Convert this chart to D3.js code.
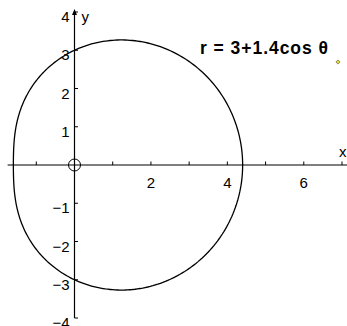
<!DOCTYPE html>
<html>
<head>
<meta charset="utf-8">
<script src="https://cdn.jsdelivr.net/npm/d3@7"></script>
<style>
body { margin: 0; background: #fff; }
text { font-family: Arial, "Liberation Sans", sans-serif; }
</style>
</head>
<body>
<svg id="chart" width="347" height="326"></svg>
<script>
// curve r = a + b cos(theta), as written on the chart
const coefA = 3;
const coefB = 1.4;
const xTicks = [-1, 1, 2, 3, 4, 5, 6, 7];
const xLabels = [2, 4, 6];
const yTicks = [-4, -3, -2, -1, 1, 2, 3, 4];
const yLabels = [-4, -3, -2, -1, 1, 2, 3, 4];
const title = "r = 3+1.4cos θ";

const svg = d3.select("#chart");

const x = d3.scaleLinear().domain([0, 7]).range([74.5, 342]);
const y = d3.scaleLinear().domain([-4, 4]).range([318, 12]);

const fmt = d => (d < 0 ? "\u2212" + Math.abs(d) : "" + d);

// axes
svg.append("line")
    .attr("x1", x(-1.75)).attr("x2", 347)
    .attr("y1", y(0)).attr("y2", y(0))
    .attr("stroke", "black").attr("stroke-width", 1.2);
svg.append("line")
    .attr("x1", x(0)).attr("x2", x(0))
    .attr("y1", y(-4)).attr("y2", y(4))
    .attr("stroke", "black").attr("stroke-width", 1.2);

// arrow head on y axis
svg.append("path")
    .attr("d", `M${x(0) - 2.5},${y(4) + 3} L${x(0)},${y(4) - 3} L${x(0) + 2.5},${y(4) + 3} Z`)
    .attr("fill", "black");

// ticks
svg.append("g").selectAll("line")
    .data(xTicks)
    .enter()
    .append("line")
    .attr("x1", d => x(d)).attr("x2", d => x(d))
    .attr("y1", y(0) - 3.5).attr("y2", y(0))
    .attr("stroke", "black").attr("stroke-width", 1);
svg.append("g").selectAll("line")
    .data(yTicks)
    .enter()
    .append("line")
    .attr("x1", x(0)).attr("x2", x(0) + 3.5)
    .attr("y1", d => y(d)).attr("y2", d => y(d))
    .attr("stroke", "black").attr("stroke-width", 1);

// tick labels
svg.append("g").selectAll("text")
    .data(xLabels)
    .enter()
    .append("text")
    .attr("x", d => x(d))
    .attr("y", y(0) + 23)
    .attr("text-anchor", "middle")
    .attr("font-size", 15)
    .text(fmt);
svg.append("g").selectAll("text")
    .data(yLabels)
    .enter()
    .append("text")
    .attr("x", x(0) - 5)
    .attr("y", d => y(d) + 10)
    .attr("text-anchor", "end")
    .attr("font-size", 15)
    .text(fmt);

// axis names
svg.append("text").attr("x", x(0) + 7).attr("y", y(4) + 10)
    .attr("font-size", 15).text("y");
svg.append("text").attr("x", 339).attr("y", y(0) - 8)
    .attr("font-size", 15).text("x");

// origin marker
svg.append("circle")
    .attr("cx", x(0)).attr("cy", y(0)).attr("r", 6)
    .attr("fill", "none").attr("stroke", "black").attr("stroke-width", 1);

// polar curve
const thetas = d3.range(0, 2 * Math.PI + 0.001, Math.PI / 180);
const pts = thetas.map(t => {
    const r = coefA + coefB * Math.cos(t);
    return [r * Math.cos(t), r * Math.sin(t)];
});
svg.append("path")
    .datum(pts)
    .attr("d", d3.line().x(d => x(d[0])).y(d => y(d[1])))
    .attr("fill", "none")
    .attr("stroke", "black")
    .attr("stroke-width", 1.3);

// title
svg.append("text")
    .attr("x", 200).attr("y", 54)
    .attr("font-size", 17.5)
    .attr("font-weight", "bold")
    .attr("textLength", 128)
    .attr("lengthAdjust", "spacing")
    .text(title);

// small marker
svg.append("rect")
    .attr("x", 336.5).attr("y", 60.5).attr("width", 3).attr("height", 3)
    .attr("transform", "rotate(45 338 62)")
    .attr("fill", "#e8d84a").attr("stroke", "#6a6a2a").attr("stroke-width", 0.7);
</script>
</body>
</html>
